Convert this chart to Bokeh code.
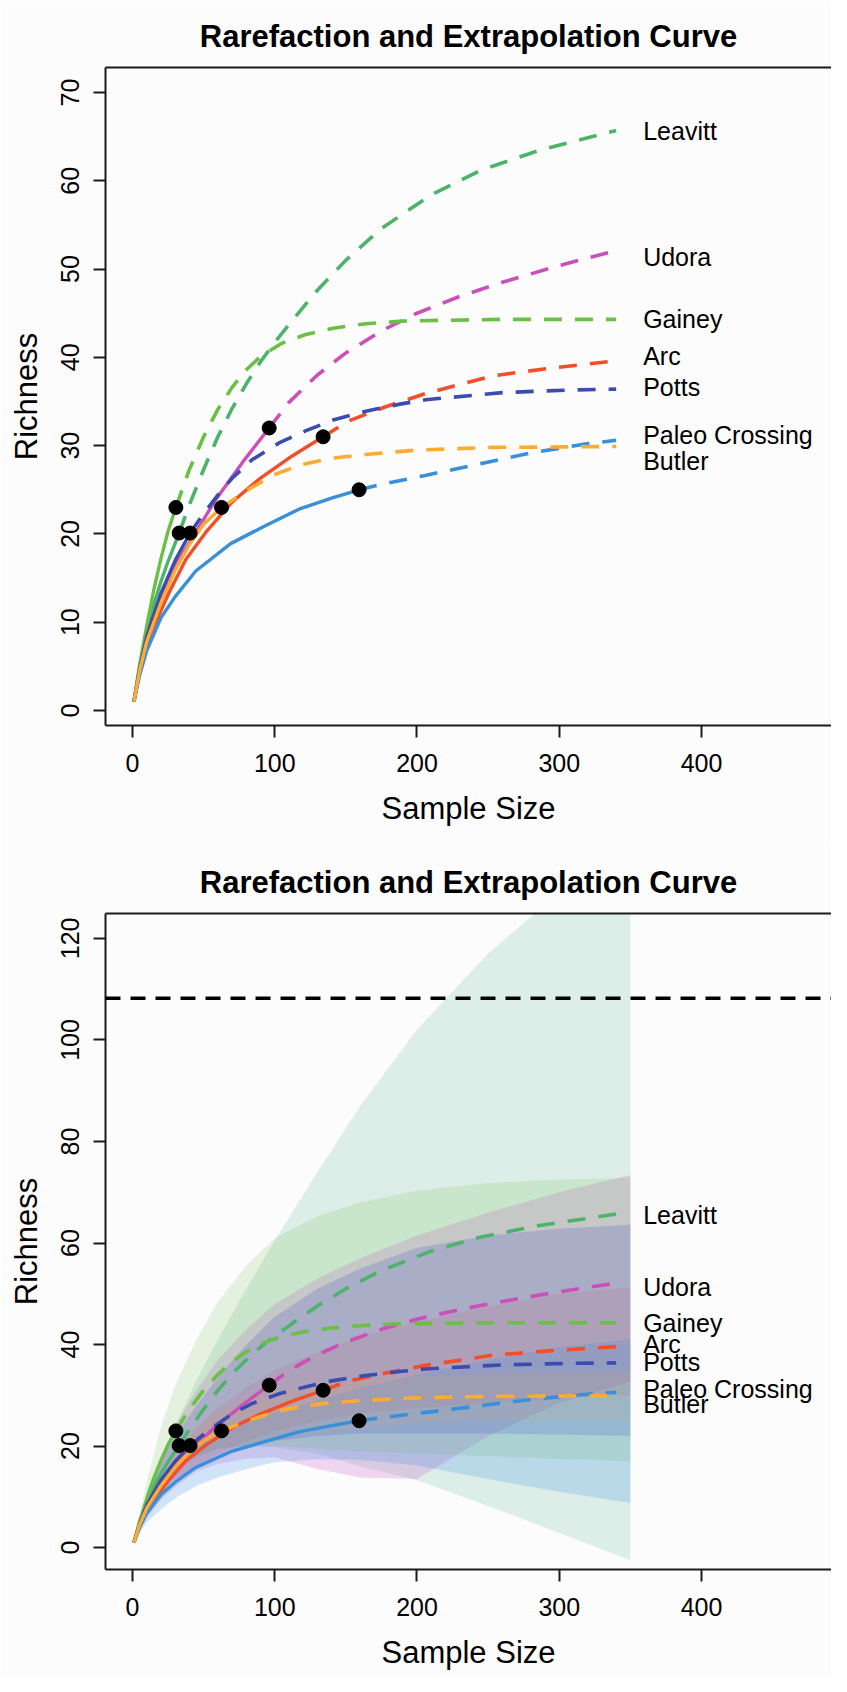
import numpy as np
from bokeh.plotting import figure
from bokeh.models import Range1d, LinearAxis, FixedTicker, Span
from bokeh.layouts import column
from bokeh.embed import file_html
from bokeh.resources import INLINE
from bokeh.core.properties import value

# ---------------- data ----------------
sites = ["Leavitt", "Udora", "Gainey", "Arc", "Potts", "Paleo Crossing", "Butler"]
site_colors = ["#4DB36B", "#CC4FB8", "#6BBF47", "#F24E2A", "#3B4CB0", "#3A8FDA", "#FFAA30"]
band_colors = ["#5CB68E", "#C848C0", "#6BBF47", "#E8503A", "#4A4CC8", "#3A8FE8", "#FFAA30"]
band_alpha = [0.19, 0.21, 0.17, 0.13, 0.22, 0.22, 0.10]

# observed sample size / richness (black dots)
obs_n = [32.8, 96.1, 30.5, 134.0, 40.5, 159.3, 62.6]
obs_s = [20.1, 32.0, 23.0, 31.0, 20.1, 25.0, 23.0]

# rarefaction (solid) curves
leavitt_rx = [1, 5, 10, 15, 20, 25, 32.8]
leavitt_ry = [1, 4.8, 8.8, 12.0, 14.6, 16.9, 20.1]
udora_rx = [1, 5, 10, 21, 30.5, 44.5, 58.6, 77.3, 96.1]
udora_ry = [1, 4.8, 8.5, 13.4, 16.5, 20.2, 23.9, 28.1, 32.0]
gainey_rx = [1, 5, 10, 15, 20, 25, 30.5]
gainey_ry = [1, 5.2, 9.6, 13.7, 17.2, 20.3, 23.0]
arc_rx = [1, 5, 13, 25.8, 37.5, 51.6, 70, 89, 112, 134]
arc_ry = [1, 4.3, 8.8, 13.4, 17.1, 20.2, 23.6, 26.2, 28.8, 31.0]
potts_rx = [1, 5, 10, 20, 30, 40.5]
potts_ry = [1, 4.7, 8.4, 13.3, 17.0, 20.1]
paleo_rx = [1, 5, 10, 20, 30, 44.5, 69, 93, 117, 141, 159.3]
paleo_ry = [1, 4.0, 6.8, 10.5, 12.9, 15.8, 18.9, 20.9, 22.8, 24.1, 25.0]
butler_rx = [1, 5, 10, 20, 30, 40, 50, 62.6]
butler_ry = [1, 4.5, 7.8, 12.2, 15.9, 18.8, 21.1, 23.0]

# extrapolation (dashed) curves
leavitt_ex = [32.8, 40, 50, 60, 70, 80, 90, 100, 115, 130, 150, 175, 210, 245, 285, 340]
leavitt_ey = [20.1, 23.3, 27.3, 31.0, 34.2, 37.0, 39.5, 41.7, 44.7, 47.6, 51.0, 54.6, 58.4, 61.2, 63.4, 65.7]
udora_ex = [96.1, 110, 130, 150, 175, 200, 230, 260, 300, 340]
udora_ey = [32.0, 34.9, 38.0, 40.5, 43.0, 45.0, 46.9, 48.5, 50.4, 52.1]
gainey_ex = [30.5, 40, 50, 60, 70, 80, 90, 105, 122, 141, 164, 190, 220, 260, 300, 340]
gainey_ey = [23.0, 27.3, 31.0, 34.1, 36.6, 38.6, 40.1, 41.6, 42.6, 43.3, 43.8, 44.1, 44.2, 44.3, 44.3, 44.3]
arc_ex = [134, 152, 178, 206, 253, 295, 340]
arc_ey = [31.0, 32.8, 34.4, 35.9, 37.9, 38.8, 39.6]
potts_ex = [40.5, 50, 60, 70, 84, 103, 122, 141, 164, 188, 206, 260, 307, 340]
potts_ey = [20.1, 22.3, 24.4, 26.3, 28.4, 30.3, 31.7, 32.9, 33.9, 34.7, 35.2, 36.0, 36.3, 36.4]
paleo_ex = [159.3, 175, 205, 243, 281, 319, 340]
paleo_ey = [25.0, 25.6, 26.6, 27.9, 29.2, 30.2, 30.6]
butler_ex = [62.6, 82, 101, 120, 141, 164, 200, 253, 340]
butler_ey = [23.0, 25.1, 26.8, 27.9, 28.6, 29.0, 29.5, 29.8, 29.9]

# confidence bands (bottom panel)
band_x = [1, 10, 20, 30, 45, 60, 80, 100, 130, 160, 200, 250, 300, 350]
leavitt_lo = [1, 7.5, 12, 15.5, 18, 19.5, 20, 19.8, 18.5, 16, 13.3, 8.2, 2.9, -2.5]
leavitt_hi = [1, 10, 17.5, 24, 33, 41, 51, 60.5, 74, 87, 102, 117, 129, 139]
udora_lo = [1, 6, 9.5, 12, 15, 16.5, 17.5, 17.8, 15.5, 13.8, 13.5, 22, 28.5, 32.7]
udora_hi = [1, 11, 18, 24, 31, 37, 43, 48, 53, 57, 61.5, 66, 70, 73.4]
gainey_lo = [1, 7, 11.5, 15, 18, 19.5, 20, 20, 19.5, 19, 18.5, 18, 17.5, 17]
gainey_hi = [1, 13, 23.8, 32, 41, 48.5, 55.5, 61, 65.3, 68, 70.3, 71.8, 72.5, 72.8]
arc_lo = [1, 6, 9.5, 12.5, 16, 18.5, 21, 23, 25, 26.5, 27.5, 28.5, 29.5, 30]
arc_hi = [1, 8.5, 13.5, 18, 23.5, 27.5, 31.5, 35, 38.5, 41.5, 44.5, 47.5, 50, 51.3]
potts_lo = [1, 7, 11, 13.5, 16, 18, 20, 21, 22, 22.5, 22.5, 22.5, 22.3, 22]
potts_hi = [1, 10.5, 17, 22, 28, 33.5, 40, 45.5, 51, 55, 59, 61.5, 62.8, 63.6]
paleo_lo = [1, 5, 7.5, 9.8, 12.2, 13.8, 15.5, 16.8, 17.4, 17.3, 16.2, 13.5, 11, 8.8]
paleo_hi = [1, 9, 14, 16.8, 20, 22.5, 24.5, 26.5, 29, 31.5, 34, 37, 39.5, 41]
butler_lo = [1, 7, 10.5, 13.5, 16.5, 18.5, 20.5, 21.5, 22.5, 23.5, 24.5, 25, 25, 25]
butler_hi = [1, 9.5, 14.5, 19, 23.5, 26.5, 29, 30.5, 32, 33, 33.8, 34.2, 34.5, 34.7]

# curve labels
label_x = 359
label_y = [65.6, 51.4, 44.3, 40.2, 36.6, 31.2, 28.3]

# asymptotic estimate line (bottom panel)
asymptote = 108.2

x_ticks = [0, 100, 200, 300, 400]
y_ticks_top = [0, 10, 20, 30, 40, 50, 60, 70]
y_ticks_bottom = [0, 20, 40, 60, 80, 100, 120]

rare_x = [leavitt_rx, udora_rx, gainey_rx, arc_rx, potts_rx, paleo_rx, butler_rx]
rare_y = [leavitt_ry, udora_ry, gainey_ry, arc_ry, potts_ry, paleo_ry, butler_ry]
ext_x = [leavitt_ex, udora_ex, gainey_ex, arc_ex, potts_ex, paleo_ex, butler_ex]
ext_y = [leavitt_ey, udora_ey, gainey_ey, arc_ey, potts_ey, paleo_ey, butler_ey]
band_lo = [leavitt_lo, udora_lo, gainey_lo, arc_lo, potts_lo, paleo_lo, butler_lo]
band_hi = [leavitt_hi, udora_hi, gainey_hi, arc_hi, potts_hi, paleo_hi, butler_hi]

FONT = "Liberation Sans"
BG = "#FCFCFD"
AXC = "#1a1a1a"


def make_fig(height, top, frame_h, yr, yticks):
    p = figure(width=831, height=height,
               x_range=Range1d(-18.98, 491.4), y_range=Range1d(*yr),
               output_backend="svg", toolbar_location=None,
               min_border_left=105, min_border_right=0,
               min_border_top=top, min_border_bottom=height - top - frame_h,
               title="Rarefaction and Extrapolation Curve",
               x_axis_label="Sample Size", y_axis_label="Richness")
    p.background_fill_color = BG
    p.border_fill_color = BG
    p.outline_line_color = None
    p.grid.visible = False
    p.title.text_font = FONT
    p.title.text_font_size = "31px"
    p.title.text_font_style = "bold"
    p.title.text_color = "black"
    p.title.align = "center"
    p.title.standoff = 27
    p.xaxis.ticker = FixedTicker(ticks=x_ticks)
    p.yaxis.ticker = FixedTicker(ticks=yticks)
    for ax in (p.xaxis[0], p.yaxis[0]):
        ax.axis_line_color = AXC
        ax.axis_line_width = 2
        ax.major_tick_line_color = AXC
        ax.major_tick_line_width = 2
        ax.major_tick_out = 12
        ax.major_tick_in = 0
        ax.minor_tick_line_color = None
        ax.major_label_text_font = FONT
        ax.major_label_text_font_size = "25px"
        ax.major_label_text_color = "black"
        ax.axis_label_text_font = FONT
        ax.axis_label_text_font_size = "31px"
        ax.axis_label_text_font_style = "normal"
        ax.axis_label_text_color = "black"
    p.xaxis.major_label_standoff = 16
    p.xaxis.axis_label_standoff = 16
    p.yaxis.major_label_standoff = 14
    p.yaxis.axis_label_standoff = 15
    p.yaxis.major_label_orientation = "vertical"
    top_ax = LinearAxis(ticker=FixedTicker(ticks=[]), major_tick_out=0, major_tick_in=0,
                        major_label_text_font_size="0px", major_label_standoff=0,
                        axis_line_color=AXC, axis_line_width=2, minor_tick_line_color=None)
    p.add_layout(top_ax, "above")
    return p


def draw_curves(p):
    for i in range(len(sites)):
        p.line(rare_x[i], rare_y[i], line_color=site_colors[i], line_width=3.4)
        p.line(ext_x[i], ext_y[i], line_color=site_colors[i], line_width=3.6,
               line_dash="18 13")
    p.scatter(obs_n, obs_s, size=14, color="black")
    p.text(x=[label_x] * len(sites), y=label_y, text=sites,
           text_font=value(FONT), text_font_size="25px",
           text_baseline="middle", text_align="left", text_color="black")


p1 = make_fig(843, 67, 658, (-1.70, 72.83), y_ticks_top)
draw_curves(p1)

p2 = make_fig(833, 70, 656, (-4.3, 124.9), y_ticks_bottom)
for i in range(len(sites)):
    p2.varea(x=band_x, y1=band_lo[i], y2=band_hi[i], fill_color=band_colors[i],
             fill_alpha=band_alpha[i])
draw_curves(p2)
p2.add_layout(Span(location=asymptote, dimension="width", line_color="black",
                   line_width=3.4, line_dash="15 10"))

layout = column(p1, p2, spacing=0)
open("out.html", "w").write(file_html(layout, INLINE))
